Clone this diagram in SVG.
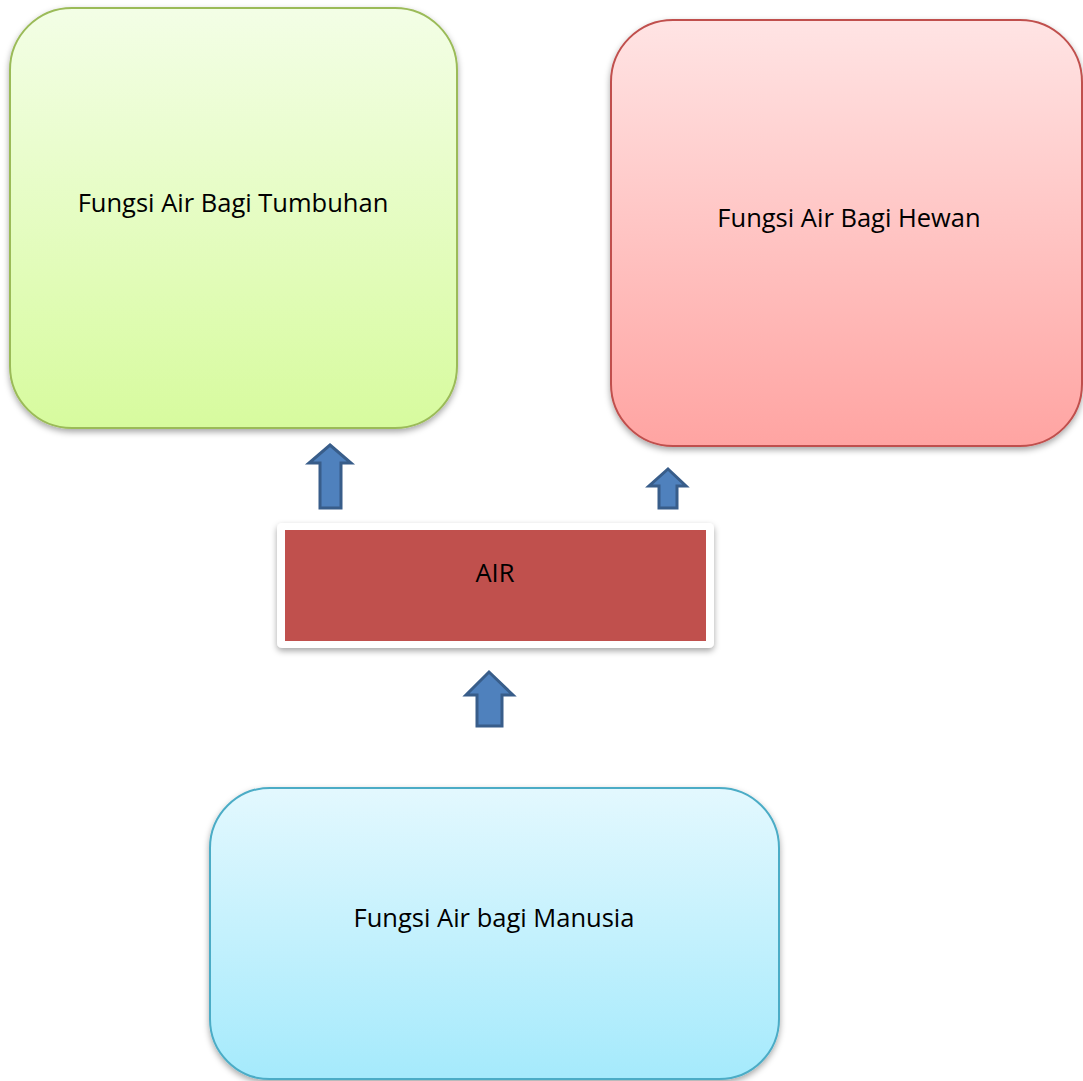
<svg xmlns="http://www.w3.org/2000/svg" width="1083" height="1081" viewBox="0 0 1083 1081">
<style>
.lbl{font-family:"Open Sans","Noto Sans","Liberation Sans",sans-serif;font-size:25.5px;fill:#000;text-anchor:middle}
.arrow{fill:#4F81BD;stroke:#385D8A;stroke-width:3}
</style>
<defs>
<linearGradient id="gG" x1="0" y1="0" x2="0" y2="1"><stop offset="0" stop-color="#F3FEE6"/><stop offset="1" stop-color="#D7FB9E"/></linearGradient>
<linearGradient id="gR" x1="0" y1="0" x2="0" y2="1"><stop offset="0" stop-color="#FFE4E4"/><stop offset="1" stop-color="#FFA4A2"/></linearGradient>
<linearGradient id="gB" x1="0" y1="0" x2="0" y2="1"><stop offset="0" stop-color="#E3F8FE"/><stop offset="1" stop-color="#A5EAFC"/></linearGradient>
<filter id="sh" x="-10%" y="-10%" width="120%" height="120%"><feDropShadow dx="0" dy="3" stdDeviation="3" flood-color="#000" flood-opacity="0.35"/></filter>
</defs>
<g id="tumbuhan">
<rect x="10" y="8" width="447" height="420" rx="62" fill="url(#gG)" stroke="#9BBB59" stroke-width="2" filter="url(#sh)"/>
<text class="lbl" x="233" y="212">Fungsi Air Bagi Tumbuhan</text>
</g>
<g id="hewan">
<rect x="611" y="20" width="471" height="426" rx="62" fill="url(#gR)" stroke="#C0504D" stroke-width="2" filter="url(#sh)"/>
<text class="lbl" x="849" y="227">Fungsi Air Bagi Hewan</text>
</g>
<g id="air">
<rect x="277" y="523" width="437" height="125" rx="5" fill="#FFFFFF" filter="url(#sh)"/>
<rect x="285" y="530" width="421" height="111" fill="#C0504D"/>
<text class="lbl" x="495" y="582">AIR</text>
</g>
<g id="manusia">
<rect x="210" y="788" width="569" height="291" rx="60" fill="url(#gB)" stroke="#4BACC6" stroke-width="2" filter="url(#sh)"/>
<text class="lbl" x="494" y="927">Fungsi Air bagi Manusia</text>
</g>
<g id="connectors">
<polygon class="arrow" points="330,445 351,463 341,463 341,508 320,508 320,463 309,463"/>
<polygon class="arrow" points="668,469 686,486 677,486 677,508 659,508 659,486 649,486"/>
<polygon class="arrow" points="489,672 513,695 502,695 502,726 477,726 477,695 466,695"/>
</g>
</svg>
